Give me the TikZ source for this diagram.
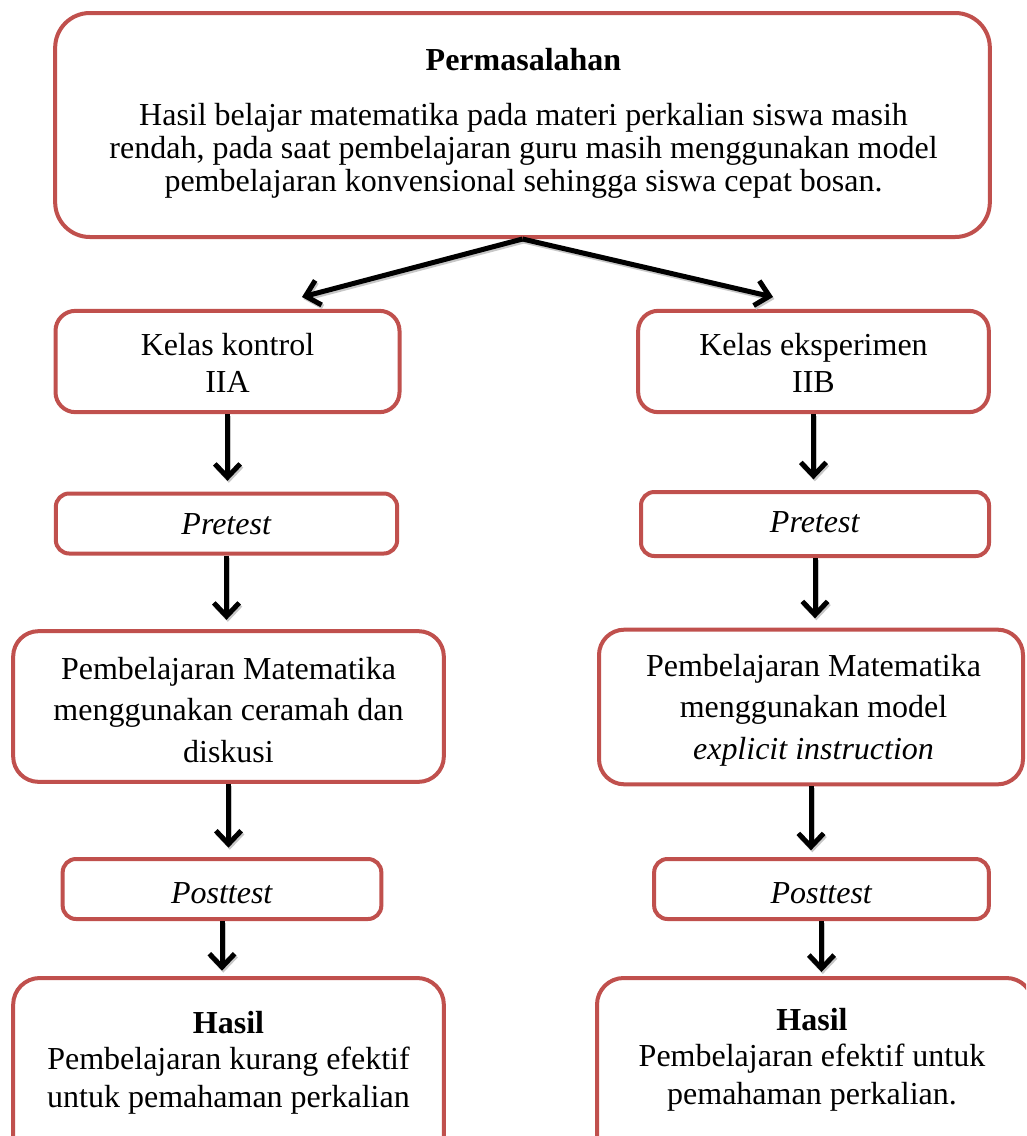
\documentclass[tikz,border=0pt]{standalone}
\usepackage{fontspec}
\setmainfont{Liberation Serif}
\usetikzlibrary{arrows.meta}
\definecolor{boxred}{RGB}{192,80,77}
\begin{document}
\begin{tikzpicture}[x=0.75pt,y=-0.75pt,
  box/.style={draw=boxred, line width=3pt, align=center, inner sep=0pt,
    font=\fontsize{24}{28}\selectfont},
  txt/.style={align=center, inner sep=0pt},
  arr/.style={line width=3.75pt, -{Straight Barb[length=10pt,width=19pt]},
    preaction={draw=black!22, line width=3.75pt, transform canvas={shift={(1pt,-1.5pt)}}}}
]
\clip (0,0) rectangle (1026,1136);
\fill[white] (0,0) rectangle (1026,1136);

% boxes
\node[box, rounded corners=26pt, minimum width=701pt, minimum height=168pt] (masalah) at (522.5,125) {};
\node[box, rounded corners=15pt, minimum width=258pt, minimum height=76pt] (kelasL) at (227.5,361.5) {};
\node[box, rounded corners=15pt, minimum width=263pt, minimum height=76pt] (kelasR) at (813.5,361.5) {};
\node[box, rounded corners=10pt, minimum width=256pt, minimum height=45pt,
      text height=17pt, text depth=0pt] (preL) at (226.5,523.5) {\textit{Pretest}};
\node[box, rounded corners=10pt, minimum width=261pt, minimum height=48pt,
      text height=12pt, text depth=0pt] (preR) at (815,524) {\textit{Pretest}};
\node[box, rounded corners=19pt, minimum width=323pt, minimum height=113pt] (pembL) at (228.5,706.5) {};
\node[box, rounded corners=19pt, minimum width=318pt, minimum height=116pt] (pembR) at (811,707) {};
\node[box, rounded corners=10pt, minimum width=239pt, minimum height=45pt,
      text height=21pt, text depth=0pt] (postL) at (222,889) {\textit{Posttest}};
\node[box, rounded corners=10pt, minimum width=251pt, minimum height=45pt,
      text height=21pt, text depth=0pt] (postR) at (821.5,889) {\textit{Posttest}};
\node[box, rounded corners=20pt, minimum width=323pt, minimum height=151.5pt] (hasilL) at (228.5,1079) {};
\node[box, rounded corners=20pt, minimum width=327pt, minimum height=151.5pt] (hasilR) at (815,1079) {};

% texts
\node[txt, font=\fontsize{24}{24.75}\selectfont] (masalahT) at (523.5,124.6)
  {\strut\textbf{Permasalahan}\\[16.9pt]
   Hasil belajar matematika pada materi perkalian siswa masih\\
   rendah, pada saat pembelajaran guru masih menggunakan model\\
   pembelajaran konvensional sehingga siswa cepat bosan.\strut};
\node[txt, font=\fontsize{24}{28.3}\selectfont] (kelasLT) at (227.5,366.5) {\strut Kelas kontrol\\IIA\strut};
\node[txt, font=\fontsize{24}{28.3}\selectfont] (kelasRT) at (813.5,366.5) {\strut Kelas eksperimen\\IIB\strut};
\node[txt, font=\fontsize{24}{31.3}\selectfont] (pembLT) at (228.5,712.6)
  {\strut Pembelajaran Matematika\\menggunakan ceramah dan\\diskusi\strut};
\node[txt, font=\fontsize{24}{31.3}\selectfont] (pembRT) at (813.5,709.6)
  {\strut Pembelajaran Matematika\\menggunakan model\\\textit{explicit instruction}\strut};
\node[txt, font=\fontsize{24}{28.5}\selectfont] (hasilLT) at (228.5,1062.4)
  {\strut\textbf{Hasil}\\[-1.5pt]Pembelajaran kurang efektif\\untuk pemahaman perkalian\strut};
\node[txt, font=\fontsize{24}{28.5}\selectfont] (hasilRT) at (812,1059.4)
  {\strut\textbf{Hasil}\\[-1.5pt]Pembelajaran efektif untuk\\pemahaman perkalian.\strut};

% connectors
\coordinate (tl) at (302,297);
\coordinate (tr) at (773,297);
\draw[arr] (masalah.south) -- (tl);
\draw[arr] (masalah.south) -- (tr);

\draw[arr, shorten >=8pt] (kelasL.south) -- (kelasL.south |- preL.north);
\draw[arr, shorten >=8pt] (kelasR.south) -- (kelasR.south |- preR.north);
\draw[arr, shorten >=7pt] (preL.south) -- (preL.south |- pembL.north);
\draw[arr, shorten >=7pt] (preR.south) -- (preR.south |- pembR.north);
\draw[arr, shorten >=7pt] (pembL.south) -- (pembL.south |- postL.north);
\draw[arr, shorten >=5pt] (pembR.south) -- (pembR.south |- postR.north);
\draw[arr, shorten >=4pt] (postL.south) -- (postL.south |- hasilL.north);
\draw[arr, shorten >=3pt] (postR.south) -- (postR.south |- hasilR.north);
\end{tikzpicture}
\end{document}
